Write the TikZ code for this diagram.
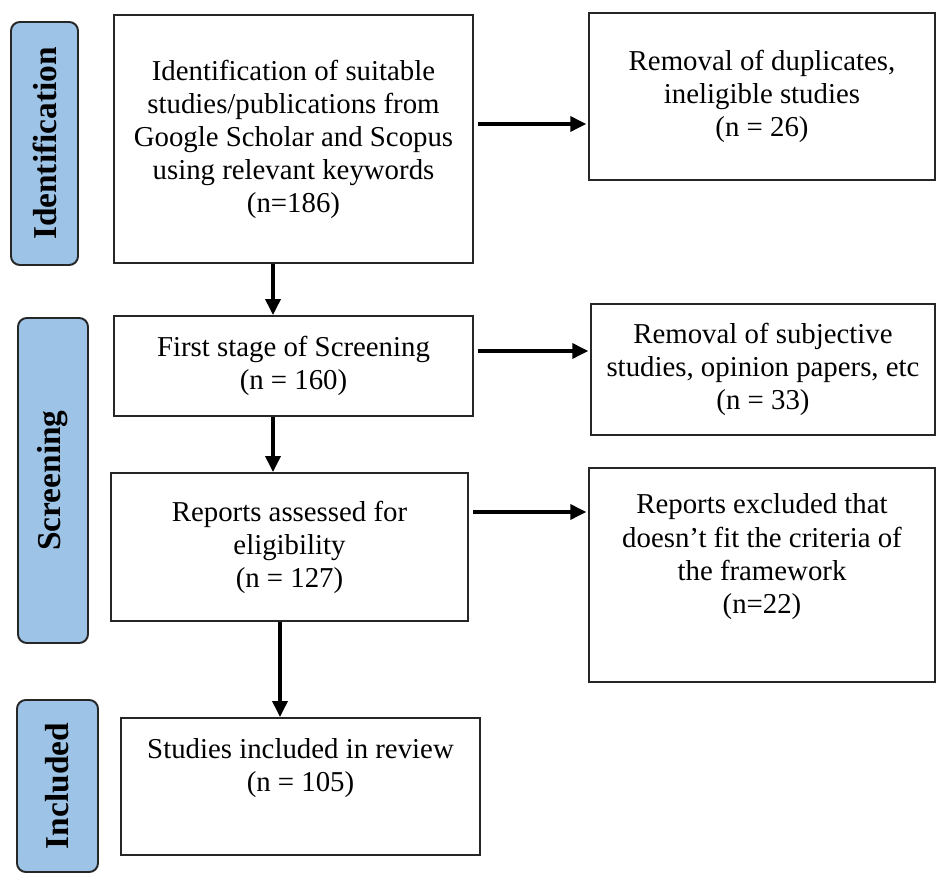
\documentclass[tikz,border=0pt]{standalone}
\usepackage{fontspec}
\setmainfont{Liberation Serif}
\usetikzlibrary{arrows.meta}
\definecolor{tabblue}{HTML}{9DC3E6}

\begin{document}
\begin{tikzpicture}[
	box/.style={draw=black!85, line width=1.1pt, align=center, inner sep=0pt, font=\fontsize{16.4}{18.8}\selectfont},
	tab/.style={draw=black!85, fill=tabblue, line width=1.1pt, rounded corners=5pt, rotate=90, inner sep=0pt, font=\fontsize{19}{22}\selectfont\bfseries},
	arr/.style={line width=2pt, -{Triangle[length=3.2mm,width=3mm]}}]
			\useasboundingbox (0,0) rectangle (18.72,-17.5);

			\node[tab, minimum width=4.86cm, minimum height=1.34cm] (tabid) at (0.89,-2.87) {Identification};
			\node[tab, minimum width=6.5cm, minimum height=1.4cm] (tabscr) at (1.06,-9.61) {Screening};
			\node[tab, minimum width=3.44cm, minimum height=1.62cm] (tabinc) at (1.15,-15.72) {Included};

			\node[box, minimum width=7.18cm, minimum height=4.96cm] (id) at (5.87,-2.78) {Identification of suitable\\studies/publications from\\Google Scholar and Scopus\\using relevant keywords\\(n=186)};
			\node[box, minimum width=6.92cm, minimum height=3.34cm] (dup) at (15.24,-1.93) {Removal of duplicates,\\ineligible studies\\(n = 26)};
			\node[box, minimum width=7.18cm, minimum height=2cm] (scr) at (5.87,-7.32) {First stage of Screening\\(n = 160)};
			\node[box, minimum width=6.88cm, minimum height=2.62cm] (subj) at (15.26,-7.39) {Removal of subjective\\studies, opinion papers, etc\\(n = 33)};
			\node[box, minimum width=7.14cm, minimum height=2.96cm] (elig) at (5.79,-10.94) {Reports assessed for\\eligibility\\(n = 127)};
			\node[box, minimum width=6.92cm, minimum height=4.28cm] (excl) at (15.24,-11.5) {Reports excluded that\\doesn’t fit the criteria of\\the framework\\(n=22)\\\strut};
			\node[box, minimum width=7.18cm, minimum height=2.74cm] (incl) at (6.01,-15.73) {Studies included in review\\(n = 105)\\\strut};

			\draw[arr, shorten <=2.3pt, shorten >=1pt] ([yshift=3mm]id.east) -- ([yshift=3mm]id.east -| dup.west);
			\draw[arr, shorten <=2.3pt, shorten >=1pt] ([yshift=3mm]scr.east) -- ([yshift=3mm]scr.east -| subj.west);
			\draw[arr, shorten <=2.3pt, shorten >=1pt] ([yshift=7mm]elig.east) -- ([yshift=7mm]elig.east -| excl.west);
			\draw[arr] ([xshift=-4.1mm]id.south) -- ([xshift=-4.1mm]id.south |- scr.north);
			\draw[arr] ([xshift=-4.1mm]scr.south) -- ([xshift=-4.1mm]scr.south |- elig.north);
			\draw[arr] ([xshift=-1.9mm]elig.south) -- ([xshift=-1.9mm]elig.south |- incl.north);
		\end{tikzpicture}
\end{document}
